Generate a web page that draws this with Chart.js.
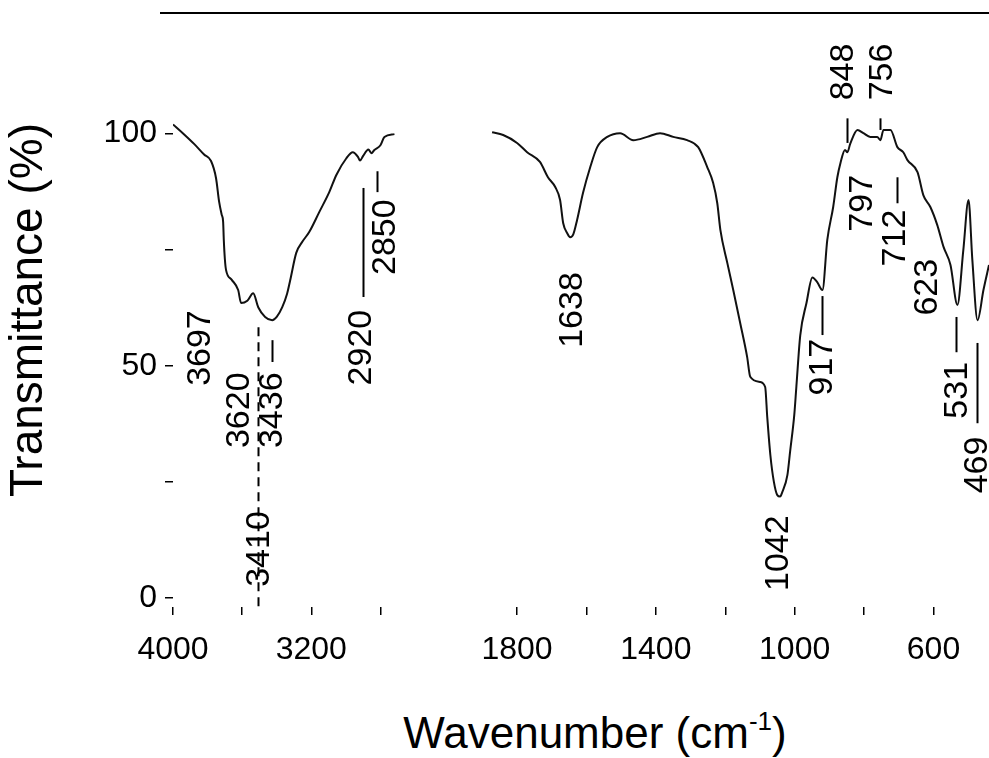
<!DOCTYPE html>
<html>
<head>
<meta charset="utf-8">
<script src="https://cdn.jsdelivr.net/npm/chart.js@4.4.1/dist/chart.umd.min.js"></script>
<style>
html,body{margin:0;padding:0;background:#fff;width:989px;height:758px;overflow:hidden;font-family:"Liberation Sans",Arial,sans-serif}
#wrap{position:relative;width:989px;height:758px;overflow:hidden}
#cl{position:absolute;left:0;top:0}
#cr{position:absolute;left:440px;top:0}
#topline{position:absolute;left:160px;top:12px;width:829px;height:2px;background:#000}
#xtitle{position:absolute;left:395px;width:400px;top:708px;text-align:center;font-size:44px;line-height:50px;color:#000;white-space:nowrap}
#xtitle sup{font-size:26px;vertical-align:18px;line-height:0}
</style>
</head>
<body>
<div id="wrap">
  <canvas id="cl" width="415" height="677"></canvas>
  <canvas id="cr" width="549" height="677"></canvas>
  <div id="topline"></div>
  <div id="xtitle">Wavenumber (cm<sup>-1</sup>)</div>
</div>
<script>
// ---------- data (left panel: 4000–2600 cm-1) ----------
const leftWavenumber = [4000,3940,3878,3820,3780,3751,3733,3718,3710,3706,3700,3693,3660,3623,3606,3570,3536,3507,3467,3426,3400,3368,3340,3322,3287,3250,3212,3154,3096,3055,2997,2960,2930,2918,2900,2870,2852,2835,2800,2777,2719];
const leftTransmittance = [102.0,100.0,97.8,95.5,94.1,90.4,85.3,82.5,81.0,77.0,73.0,70.6,68.5,66.3,63.5,64.0,65.6,62.6,60.5,59.8,60.5,62.6,65.5,68.4,74.3,76.8,78.8,83.1,87.4,91.1,94.7,96.0,95.0,94.2,95.2,96.6,95.8,96.5,97.5,99.3,99.9];

// ---------- data (right panel: 1950–440 cm-1) ----------
const rightWavenumber = [1872,1840,1800,1771,1734,1711,1690,1676,1667,1655,1647,1638,1627,1610,1589,1569,1540,1503,1465,1425,1388,1350,1310,1278,1252,1235,1223,1214,1194,1177,1157,1137,1128,1100,1085,1079,1070,1060,1050,1042,1036,1021,1013,1001,995,984,966,949,935,920,906,889,877,868,855,848,840,819,802,782,762,753,744,724,704,687,675,646,629,609,589,571,551,531,514,499,488,473,456,440];
const rightTransmittance = [100.3,99.7,98.0,96.0,93.9,90.6,88.5,85.7,80.7,78.5,77.7,78.3,81.4,87.2,92.8,97.1,99.3,100.1,98.6,99.3,100.1,99.3,98.6,97.1,92.8,89.4,85.0,79.2,72.1,66.3,59.2,51.9,47.6,46.5,45.4,38.9,30.7,25.0,22.1,21.8,22.7,26.4,31.6,39.5,45.6,56.5,63.5,69.0,68.0,66.3,77.1,84.2,90.6,93.7,96.5,96.0,97.8,100.8,100.1,99.3,99.3,98.6,100.8,100.8,97.1,96.0,94.3,91.7,86.7,84.2,80.3,75.6,71.7,63.1,74.9,85.7,72.8,59.8,66.3,71.7];

// ---------- ticks ----------
const leftTicks = [4000,3600,3200,2800];
const leftTickLabels = [4000,3200];
const rightTicks = [1800,1600,1400,1200,1000,800,600];
const rightTickLabels = [1800,1400,1000,600];
const yTicks = [0,25,50,75,100];
const yTickLabels = [0,50,100];

// ---------- peak annotations ----------
const leftLabelText = ['3697','3620','3436','3410','2920','2850'];
const leftLabelWn   = [3843,3617,3426,3501,2910,2771];
const leftLabelT    = [53.8,40.4,40.4,10.5,53.9,77.7];
const leftLeaderWn     = [3507,3426,2899,2817];
const leftLeaderTop    = [58.3,55.5,88.3,91.9];
const leftLeaderBottom = [-2,50.8,64.8,87.4];
const leftLeaderDashed = [true,false,false,false];

const rightLabelText = ['1638','1042','917','848','756','797','712','623','531','469'];
const rightLabelWn   = [1641,1047,920,860,747,805,710,617,531,472];
const rightLabelT    = [62.0,9.6,49.7,113.3,113.3,85.0,77.5,66.9,44.7,28.6];
const rightLeaderWn     = [921,848,753,704,534,476];
const rightLeaderTop    = [65.0,103.3,103.3,90.6,60.5,54.9];
const rightLeaderBottom = [56.6,98.0,100.8,85.0,52.9,37.6];
const rightLeaderDashed = [false,false,false,false,false,false];

const FONT = '"Liberation Sans", Arial, sans-serif';

function peaksPlugin(texts, wns, ts, lwn, ltop, lbot, ldash){
  return {
    id:'peaks',
    afterDatasetsDraw(chart){
      const ctx = chart.ctx, x = chart.scales.x, y = chart.scales.y;
      ctx.save();
      ctx.strokeStyle = '#000';
      ctx.lineWidth = 2;
      lwn.forEach((w,i)=>{
        ctx.setLineDash(ldash[i] ? [9,6] : []);
        const px = Math.round(x.getPixelForValue(w)) + 0.5;
        ctx.beginPath();
        ctx.moveTo(px, y.getPixelForValue(ltop[i]));
        ctx.lineTo(px, y.getPixelForValue(lbot[i]));
        ctx.stroke();
      });
      ctx.setLineDash([]);
      ctx.fillStyle = '#000';
      ctx.font = '34px ' + FONT;
      ctx.textAlign = 'center';
      ctx.textBaseline = 'middle';
      texts.forEach((t,i)=>{
        ctx.save();
        ctx.translate(x.getPixelForValue(wns[i]), y.getPixelForValue(ts[i]));
        ctx.rotate(-Math.PI/2);
        ctx.fillText(t, 0, 0);
        ctx.restore();
      });
      ctx.restore();
    }
  };
}

function xScale(min, max, tickVals, labelVals){
  return {
    type:'linear', reverse:true, min:min, max:max,
    afterBuildTicks: s => { s.ticks = tickVals.map(v => ({value:v})); },
    afterFit: s => { s.height = 70; s.paddingLeft = 0; s.paddingRight = 0; },
    ticks:{autoSkip:false, maxRotation:0, minRotation:0, padding:16, color:'#000',
      font:{family:FONT, size:32},
      callback: v => labelVals.includes(v) ? String(v) : ''},
    grid:{drawOnChartArea:false, drawTicks:true, tickLength:8, color:'#000', lineWidth:1.5},
    border:{display:false}
  };
}

function yScale(show){
  return {
    display: show, min:-2, max:126,
    afterBuildTicks: s => { s.ticks = yTicks.map(v => ({value:v})); },
    afterFit: s => { s.width = show ? 173 : 0; s.paddingTop = 0; s.paddingBottom = 0; },
    ticks:{padding:8, color:'#000', font:{family:FONT, size:32},
      callback: v => yTickLabels.includes(v) ? String(v) : ''},
    grid:{drawOnChartArea:false, drawTicks:true, tickLength:8, color:'#000', lineWidth:1.5},
    border:{display:false},
    title:{display:true, text:'Transmittance (%)', color:'#000', font:{family:FONT, size:46}, padding:{top:2, bottom:0}}
  };
}

function dataset(wn, t){
  return {
    data: wn.map((w,i) => ({x:w, y:t[i]})),
    borderColor:'#111', borderWidth:2, pointRadius:0, fill:false,
    cubicInterpolationMode:'monotone'
  };
}

const common = {
  responsive:false, animation:false, events:[],
  plugins:{legend:{display:false}, tooltip:{enabled:false}, title:{display:false}}
};

new Chart(document.getElementById('cl'), {
  type:'line',
  data:{datasets:[dataset(leftWavenumber, leftTransmittance)]},
  options:Object.assign({}, common, {
    layout:{padding:{top:13, left:0, right:0, bottom:0}},
    scales:{ x:xScale(2600, 4000, leftTicks, leftTickLabels), y:yScale(true) }
  }),
  plugins:[peaksPlugin(leftLabelText, leftLabelWn, leftLabelT, leftLeaderWn, leftLeaderTop, leftLeaderBottom, leftLeaderDashed)]
});

new Chart(document.getElementById('cr'), {
  type:'line',
  data:{datasets:[dataset(rightWavenumber, rightTransmittance)]},
  options:Object.assign({}, common, {
    layout:{padding:{top:13, left:25, right:0, bottom:0}},
    scales:{ x:xScale(440, 1950, rightTicks, rightTickLabels), y:yScale(false) }
  }),
  plugins:[peaksPlugin(rightLabelText, rightLabelWn, rightLabelT, rightLeaderWn, rightLeaderTop, rightLeaderBottom, rightLeaderDashed)]
});
</script>
</body>
</html>
